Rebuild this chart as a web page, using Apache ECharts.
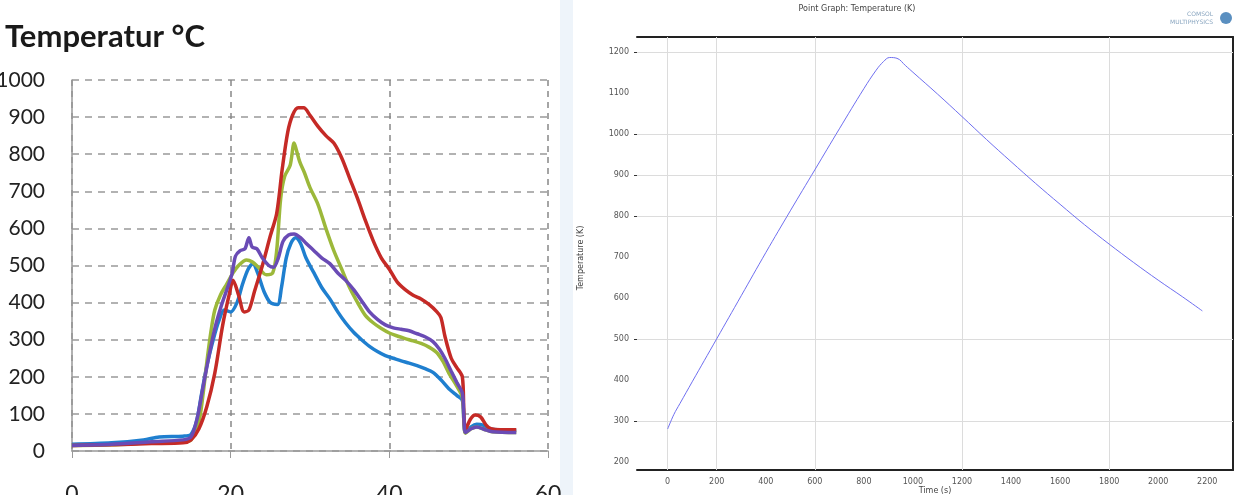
<!DOCTYPE html>
<html>
<head>
<meta charset="utf-8">
<script src="https://cdn.jsdelivr.net/npm/echarts@6/dist/echarts.min.js"></script>
<style>
html,body{margin:0;padding:0;background:#fff;}
#c{width:1248px;height:495px;}
</style>
</head>
<body>
<div id="c"></div>
<script>
// ---- Left chart: Temperatur °C ----
var leftXTicks = [0, 20, 40, 60];
var leftYTicks = [0, 100, 200, 300, 400, 500, 600, 700, 800, 900, 1000];

var redCurve = [[0,15],[5,17],[10,20],[14,22],[15,30],[16,60],[17,120],[18,210],[19,340],[19.8,420],[20.3,460],[21,420],[21.7,375],[22.3,380],[23,430],[24,500],[25,580],[25.8,640],[26.5,760],[27.2,860],[27.8,905],[28.5,925],[29.2,925],[30,905],[31,875],[32,850],[33,830],[34,790],[35,735],[36,680],[37,620],[38,565],[39,520],[40,490],[41,455],[42,435],[43,420],[44,410],[45,395],[46,375],[46.5,360],[47,310],[47.8,250],[48.5,225],[49.2,200],[49.4,100],[49.6,58],[50.2,85],[50.8,97],[51.5,92],[52.2,70],[52.8,60],[54,57],[56,57]];

var greenCurve = [[0,15],[5,17],[10,22],[14,25],[15,30],[16,80],[16.5,150],[17,240],[17.5,320],[18,380],[18.7,420],[19.5,450],[20.3,480],[21,500],[22,515],[22.7,510],[23.5,495],[24.5,475],[25.3,480],[25.8,540],[26.3,680],[26.8,740],[27.5,770],[28,830],[28.3,810],[28.7,780],[29.3,750],[30,710],[31,665],[32,600],[33,540],[34,490],[35,440],[36,400],[37,365],[38,345],[39,330],[40,318],[41,310],[42,303],[43,297],[44,290],[45,280],[46,265],[46.8,240],[47.5,210],[48.5,175],[49.2,145],[49.4,80],[49.6,48],[50.3,60],[51,65],[52,58],[53,52],[56,50]];

var blueCurve = [[0,18],[5,22],[9,30],[11,38],[14,40],[15,45],[15.7,80],[16.3,150],[17,230],[17.8,300],[18.5,350],[19.2,380],[20,375],[20.8,400],[21.5,450],[22.2,490],[22.8,505],[23.4,480],[24.2,430],[25,400],[25.9,395],[26.4,440],[27,520],[27.6,560],[28.2,575],[28.8,560],[29.5,520],[30.5,480],[31.5,440],[32.5,410],[33.5,375],[34.5,345],[35.5,320],[36.5,300],[37.5,282],[38.5,268],[39.5,257],[40.5,250],[41.5,243],[42.5,237],[43.5,230],[44.5,222],[45.5,212],[46.5,192],[47.5,168],[48.5,150],[49.2,137],[49.4,80],[49.6,50],[50.3,65],[51,72],[51.8,70],[52.5,60],[54,57],[56,55]];

var purpleCurve = [[0,15],[5,18],[10,25],[14,30],[15,38],[15.8,90],[16.5,170],[17.3,260],[18,330],[18.8,390],[19.6,440],[20.2,480],[20.6,525],[21.2,540],[21.8,545],[22.3,575],[22.7,550],[23.3,545],[24,520],[24.8,500],[25.4,495],[26,520],[26.6,565],[27.3,582],[28,585],[28.8,575],[29.5,560],[30.5,540],[31.5,520],[32.5,505],[33.5,480],[34.5,460],[35.5,435],[36.5,405],[37.5,375],[38.5,355],[39.5,340],[40.5,332],[41.5,328],[42.5,324],[43.5,316],[44.5,308],[45.5,295],[46.3,275],[47,250],[47.8,215],[48.5,185],[49.2,156],[49.4,90],[49.6,50],[50.3,60],[51,65],[52,58],[53,52],[56,50]];

// ---- Right chart: Point Graph: Temperature (K) ----
var rightXTicks = [0, 200, 400, 600, 800, 1000, 1200, 1400, 1600, 1800, 2000, 2200];
var rightYTicks = [200, 300, 400, 500, 600, 700, 800, 900, 1000, 1100, 1200];
var rightXGrid = [0, 200, 600, 1200, 1800];
var rightYGrid = [300, 500, 800, 900, 1000, 1200];
var pointTemp = [[0,280],[25,315],[50,342],[100,395],[200,500],[300,605],[400,710],[500,812],[600,912],[700,1012],[800,1110],[850,1155],[880,1176],[905,1186],[935,1184],[970,1166],[1000,1150],[1100,1097],[1200,1042],[1300,986],[1400,932],[1500,879],[1600,828],[1700,778],[1800,731],[1900,686],[2000,643],[2100,602],[2180,568]];

var chart = echarts.init(document.getElementById('c'), null, {renderer: 'canvas'});
var leftFont = 'Lato, "Open Sans", sans-serif';
var rightFont = '"DejaVu Sans", sans-serif';
function plain(v) { return String(v); }

var option = {
  backgroundColor: '#ffffff',
  animation: false,
  graphic: [
    {type: 'rect', shape: {x: 560, y: 0, width: 13, height: 495}, style: {fill: '#eef4fa'}, z: -1},
    {type: 'text', left: 5, top: 21, style: {text: 'Temperatur °C', font: 'bold 31px ' + leftFont, fill: '#1a1a1a'}},
    {type: 'text', x: 857, y: 9, style: {text: 'Point Graph: Temperature (K)', font: '8px ' + rightFont, fill: '#444', align: 'center', verticalAlign: 'middle'}},
    {type: 'text', x: 1213, y: 14, style: {text: 'COMSOL', font: '6px ' + rightFont, fill: '#8aa6c0', align: 'right', verticalAlign: 'middle'}},
    {type: 'text', x: 1213, y: 22, style: {text: 'MULTIPHYSICS', font: '6px ' + rightFont, fill: '#8aa6c0', align: 'right', verticalAlign: 'middle'}},
    {type: 'circle', shape: {cx: 1226, cy: 18, r: 6}, style: {fill: '#5a8fc0'}},
    {type: 'text', x: 581, y: 258, rotation: Math.PI / 2, style: {text: 'Temperature (K)', font: '8px ' + rightFont, fill: '#444', align: 'center', verticalAlign: 'middle'}},
    {type: 'text', x: 935, y: 491, style: {text: 'Time (s)', font: '8px ' + rightFont, fill: '#444', align: 'center', verticalAlign: 'middle'}}
  ],
  grid: [
    {left: 72, top: 80, width: 476, height: 371, outerBoundsMode: 'none', containLabel: false},
    {left: 637, top: 37, width: 596, height: 433, outerBoundsMode: 'none', containLabel: false}
  ],
  xAxis: [
    {
      gridIndex: 0, type: 'value', min: 0, max: 60, interval: 20,
      axisLine: {show: true, lineStyle: {color: '#999', width: 1.5}},
      axisTick: {show: true, length: 7, lineStyle: {color: '#999'}},
      axisLabel: {color: '#222', fontSize: 23, fontFamily: leftFont, margin: 32, formatter: plain},
      splitLine: {show: true, lineStyle: {color: '#888', type: [6, 5], width: 1.5}}
    },
    {
      gridIndex: 1, type: 'value', min: -125, max: 2305,
      axisLine: {show: true, onZero: false, lineStyle: {color: '#222', width: 2}},
      axisTick: {show: true, inside: true, length: 5, customValues: rightXGrid, lineStyle: {color: '#222'}},
      axisLabel: {color: '#555', fontSize: 8, fontFamily: rightFont, margin: 8, customValues: rightXTicks, formatter: plain},
      splitLine: {show: false}
    },
    {
      gridIndex: 1, type: 'value', position: 'top', min: -125, max: 2305,
      axisLine: {show: true, onZero: false, lineStyle: {color: '#222', width: 2}},
      axisTick: {show: true, inside: true, length: 5, customValues: rightXGrid, lineStyle: {color: '#222'}},
      axisLabel: {show: false},
      splitLine: {show: false}
    }
  ],
  yAxis: [
    {
      gridIndex: 0, type: 'value', min: 0, max: 1000, interval: 100,
      axisLine: {show: true, lineStyle: {color: '#999', width: 1.5}},
      axisTick: {show: false},
      axisLabel: {color: '#222', fontSize: 21, fontFamily: leftFont, margin: 27, formatter: plain},
      splitLine: {show: true, lineStyle: {color: '#999', type: [7, 6], width: 1.5}}
    },
    {
      gridIndex: 1, type: 'value', min: 180, max: 1236,
      axisLine: {show: false, onZero: false},
      axisTick: {show: true, length: 3, customValues: rightYGrid, lineStyle: {color: '#333'}},
      axisLabel: {color: '#555', fontSize: 8, fontFamily: rightFont, margin: 8, customValues: rightYTicks, formatter: plain},
      splitLine: {show: false}
    },
    {
      gridIndex: 1, type: 'value', position: 'right', min: 180, max: 1236,
      axisLine: {show: true, onZero: false, lineStyle: {color: '#222', width: 2}},
      axisTick: {show: false},
      axisLabel: {show: false},
      splitLine: {show: false}
    }
  ],
  series: [
    {type: 'line', xAxisIndex: 0, yAxisIndex: 0, data: blueCurve, showSymbol: false, smooth: 0.3, lineStyle: {color: '#1f7fcf', width: 3.5}, z: 3},
    {type: 'line', xAxisIndex: 0, yAxisIndex: 0, data: greenCurve, showSymbol: false, smooth: 0.3, lineStyle: {color: '#9cb83a', width: 3.5}, z: 3},
    {type: 'line', xAxisIndex: 0, yAxisIndex: 0, data: redCurve, showSymbol: false, smooth: 0.3, lineStyle: {color: '#c52a26', width: 3.5}, z: 4},
    {type: 'line', xAxisIndex: 0, yAxisIndex: 0, data: purpleCurve, showSymbol: false, smooth: 0.3, lineStyle: {color: '#6a4bb5', width: 3.5}, z: 5},
    {
      type: 'line', xAxisIndex: 1, yAxisIndex: 1, data: pointTemp, showSymbol: false, smooth: 0.4,
      lineStyle: {color: '#6f6ff0', width: 1}, z: 5,
      markLine: {
        silent: true, symbol: 'none', label: {show: false},
        lineStyle: {color: '#dcdcdc', type: 'solid', width: 1},
        data: rightXGrid.map(function (v) { return {xAxis: v}; }).concat(rightYGrid.map(function (v) { return {yAxis: v}; }))
      }
    }
  ]
};
chart.setOption(option);
</script>
</body>
</html>
